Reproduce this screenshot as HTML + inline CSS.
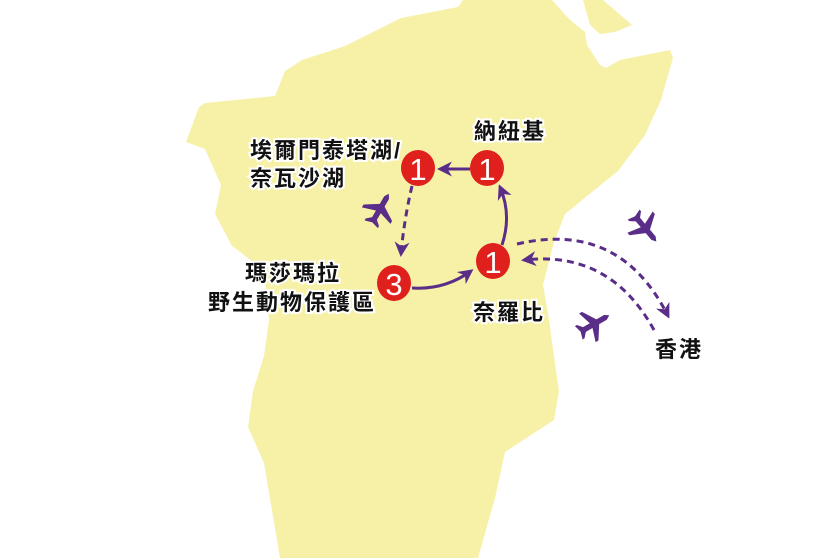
<!DOCTYPE html>
<html><head><meta charset="utf-8"><style>
html,body{margin:0;padding:0;background:#fff}
svg{display:block}
.t{font-family:"Liberation Sans","Noto Sans CJK TC",sans-serif;font-size:22px;font-weight:bold;letter-spacing:2px;fill:#111;stroke:#fff;stroke-width:4px;paint-order:stroke;}
.n{font-family:"Liberation Sans",sans-serif;font-size:31px;fill:#fff;text-anchor:middle}
</style></head><body>
<svg width="840" height="558" viewBox="0 0 840 558" xmlns="http://www.w3.org/2000/svg">
<defs>
<marker id="a" viewBox="0 0 10 10" refX="8" refY="5" markerWidth="5" markerHeight="5" orient="auto-start-reverse"><path d="M0,0 L10,5 L0,10 L3,5z" fill="#5a2d88"/></marker>
<path id="pl" fill="#5a2d88" d="M0,-16 L2.5,-12 L2.5,-4 L15,4 L15,7 L2.5,3 L2.5,10 L7,14 L7,16 L0,14 L-7,16 L-7,14 L-2.5,10 L-2.5,3 L-15,7 L-15,4 L-2.5,-4 L-2.5,-12 Z"/>
</defs>
<path fill="#f7f1a8" d="M463,0 L458,7 L401,18 L345,46 L302,60 L285,71 L275,96 L205,103 L199,107 L186,142 L205,149 L221,185 L215,214 L232,246 L264,270 L269,320 L264,356 L253,391 L248,427 L264,463 L280,558 L478,558 L495,498 L505,452 L554,420 L559,391 L554,356 L548,313 L543,285 L554,242 L565,214 L592,192 L618,171 L645,135 L661,100 L673,58 L670,50 L650,54 L620,60 L606,68 L600,65 L587,45 L585,32 L570,20 L552,0 Z"/>
<path fill="#f7f1a8" d="M583,0 L603,0 L632,25 L615,32 L600,34 L590,25 Z"/>
<g fill="none" stroke="#5a2d88" stroke-width="3">
<path d="M470,169 L440,169" marker-end="url(#a)"/>
<path d="M412,186 Q404,220 401,254" stroke-dasharray="7,5" marker-end="url(#a)"/>
<path d="M412,288 Q445,290 471,271" marker-end="url(#a)"/>
<path d="M502,245 Q512,215 500,187" marker-end="url(#a)"/>
<path d="M517,244 Q620,220 668,316" stroke-dasharray="7,5" marker-end="url(#a)"/>
<path d="M654,330 Q610,250 524,260" stroke-dasharray="7,5" marker-end="url(#a)"/>
</g>
<g fill="#e0201c">
<ellipse cx="418" cy="168" rx="17" ry="18"/>
<ellipse cx="487" cy="168" rx="17" ry="18"/>
<ellipse cx="493" cy="261" rx="17" ry="18"/>
<ellipse cx="394" cy="283" rx="17" ry="18"/>
</g>
<text class="n" x="418" y="180">1</text>
<text class="n" x="487" y="180">1</text>
<text class="n" x="493" y="273">1</text>
<text class="n" x="394" y="295">3</text>
<use href="#pl" transform="translate(380,209) rotate(30) scale(1.1)"/>
<use href="#pl" transform="translate(645,228) rotate(140) scale(1.1)"/>
<use href="#pl" transform="translate(594,324) rotate(60) scale(1.1)"/>
<text class="t" x="250" y="158">埃爾門泰塔湖/</text>
<text class="t" x="250" y="186">奈瓦沙湖</text>
<text class="t" x="474" y="139">納紐基</text>
<text class="t" x="245" y="281">瑪莎瑪拉</text>
<text class="t" x="208" y="310">野生動物保護區</text>
<text class="t" x="473" y="320">奈羅比</text>
<text class="t" x="655" y="357">香港</text>
</svg>
</body></html>
